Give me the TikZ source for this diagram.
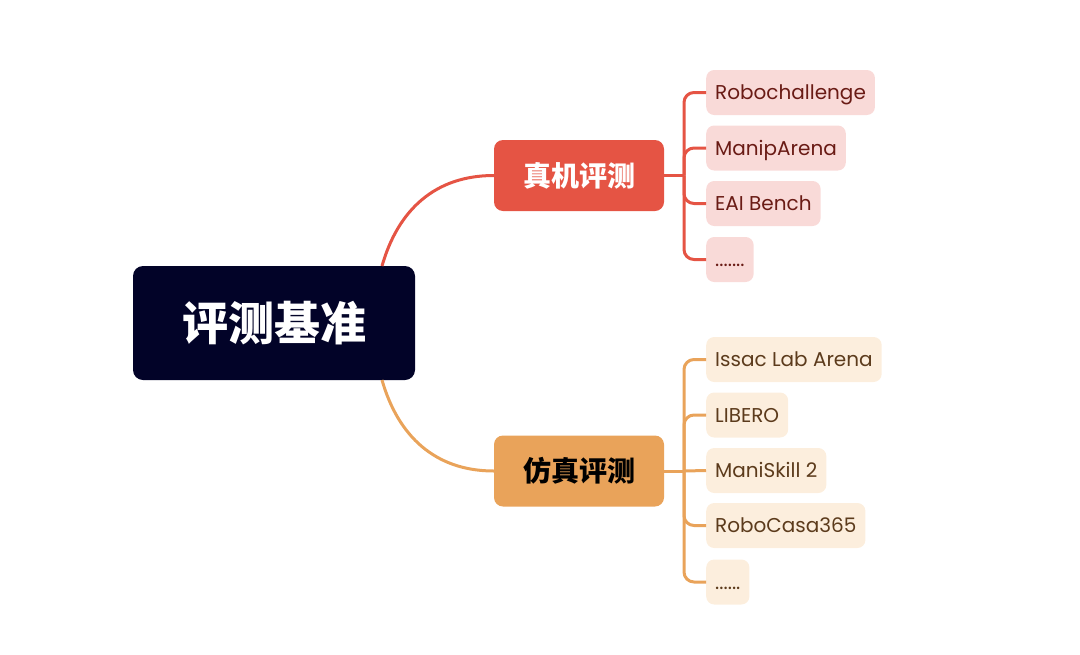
\documentclass[tikz,border=0pt]{standalone}
\usepackage{fontspec}
\setmainfont{Poppins}
\newfontfamily\cjk{Noto Sans CJK SC}
\definecolor{rootc}{HTML}{020328}
\definecolor{redc}{HTML}{E55444}
\definecolor{orac}{HTML}{E9A35A}
\definecolor{redl}{HTML}{F9DAD8}
\definecolor{oral}{HTML}{FCEEDD}
\definecolor{redt}{HTML}{6A1B15}
\definecolor{orat}{HTML}{5C3B1C}
\tikzset{
  px/.style={x=1pt,y=-1pt},
  rootbox/.style={fill=rootc, rounded corners=10pt, minimum width=282pt, minimum height=114pt, text=white, font=\cjk\fontsize{46}{50}\selectfont\bfseries, inner sep=0pt},
  branchbox/.style={rounded corners=9pt, minimum width=170pt, minimum height=71pt, font=\cjk\fontsize{28}{32}\selectfont\bfseries, inner sep=0pt},
  leafbox/.style={rounded corners=8pt, minimum height=45pt, inner xsep=9pt, inner ysep=0pt, text height=14pt, text depth=0pt, anchor=west, font=\fontsize{20}{23}\selectfont},
  redleaf/.style={leafbox, fill=redl, text=redt},
  oraleaf/.style={leafbox, fill=oral, text=orat},
  redline/.style={draw=redc, line width=3pt},
  oraline/.style={draw=orac, line width=3pt},
}
\begin{document}
\begin{tikzpicture}[px]
\useasboundingbox (0,0) rectangle (1080,654);
\node[rootbox] (root) at (274,323) {评测基准};
\node[branchbox, fill=redc, text=white] (real) at (579,175.5) {真机评测};
\node[branchbox, fill=orac, text=black] (sim) at (579,471) {仿真评测};

\coordinate (rs) at (382,266);
\coordinate (rb) at (382,380);
\draw[redline] (rs) .. controls (398,210) and (435,175.5) .. (real.west);
\draw[oraline] (rb) .. controls (398,436) and (435,471) .. (sim.west);

% real leaves
\node[redleaf] (r1) at (706,92.5) {Robochallenge};
\node[redleaf] (r2) at (706,148) {ManipArena};
\node[redleaf] (r3) at (706,203.5) {EAI Bench};
\node[redleaf] (r4) at (706,259.5) {.......};
\coordinate (rj) at (684,175.5);
\draw[redline] (real.east) -- (rj);
\foreach \n in {r1,r2,r3,r4}
  \draw[redline, rounded corners=10pt] (rj) |- (\n.west);

% sim leaves
\node[oraleaf] (s1) at (706,359.5) {Issac Lab Arena};
\node[oraleaf] (s2) at (706,415) {LIBERO};
\node[oraleaf] (s3) at (706,470.5) {ManiSkill 2};
\node[oraleaf] (s4) at (706,525.5) {RoboCasa365};
\node[oraleaf] (s5) at (706,582) {......};
\coordinate (sj) at (684,471);
\draw[oraline] (sim.east) -- (sj);
\foreach \n in {s1,s2,s4,s5}
  \draw[oraline, rounded corners=10pt] (sj) |- (\n.west);
\draw[oraline] (sj) -- (s3.west);
\end{tikzpicture}
\end{document}
